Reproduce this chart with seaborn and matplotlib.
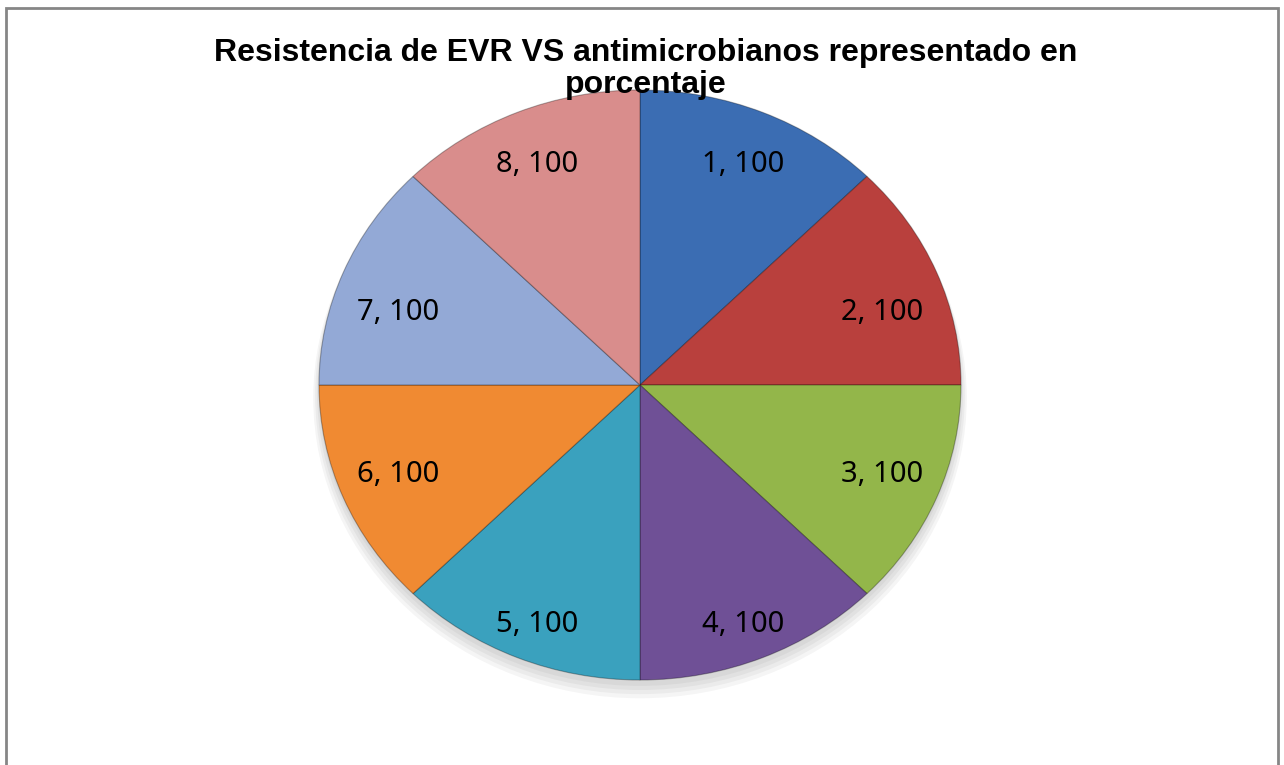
import matplotlib
matplotlib.use("Agg")
import matplotlib.pyplot as plt
import seaborn as sns
import numpy as np
from matplotlib.patches import Rectangle, Ellipse

# Data
categories = ["1", "2", "3", "4", "5", "6", "7", "8"]
values = [100, 100, 100, 100, 100, 100, 100, 100]
colors = ["#3B6DB3", "#B9403D", "#93B64A", "#6F5096", "#3AA1BE",
          "#F08A32", "#93A9D6", "#D98D8C"]
title = "Resistencia de EVR VS antimicrobianos representado en\nporcentaje"

sns.set_theme(style="white")
plt.rcParams['font.family'] = ['Noto Sans', 'DejaVu Sans']

fig = plt.figure(figsize=(12.84, 7.65), dpi=100)
fig.patch.set_facecolor("white")
ax = fig.add_axes([319 / 1284, (765 - 680) / 765, 642 / 1284, 590 / 765])

# soft shadow under the pie
for i in range(4):
    ax.add_patch(Ellipse((0, -0.02 - 0.008 * i), 2.0 + 0.012 * i, 2.0 + 0.012 * i,
                         facecolor="black", alpha=0.04, edgecolor="none",
                         zorder=0, clip_on=False))

labels = [f"{c}, {v}" for c, v in zip(categories, values)]
wedges, texts = ax.pie(
    values, colors=sns.color_palette(colors), startangle=90, counterclock=False,
    labels=labels, labeldistance=0.80,
    textprops=dict(fontsize=21, color="black", ha="center", va="center"),
    wedgeprops=dict(linewidth=0.8, edgecolor=(0, 0, 0, 0.3)),
)
# place labels in Excel-like best-fit spots, derived from each wedge's angle
for w, t in zip(wedges, texts):
    mid = np.deg2rad((w.theta1 + w.theta2) / 2)
    x, y = np.cos(mid), np.sin(mid)
    if abs(x) > 0.5:
        px, py = 0.755 * np.sign(x), 0.717 * y - 0.03
    else:
        px, py = 0.84 * x, (0.81 if y > 0 else 0.88) * y
    t.set_position((px, py))
    t.set_ha("center")
    t.set_va("center")
ax.set_aspect("auto")
ax.set_xlim(-1, 1)
ax.set_ylim(-1, 1)
ax.axis("off")

fig.text(0.503, 1 - 69 / 765, title, ha="center", va="center", fontsize=23,
         fontweight="bold", family=["Liberation Sans", "DejaVu Sans"],
         color="black", linespacing=1.12, zorder=5)

fig.patches.append(Rectangle((6 / 1284, -0.05), 1272 / 1284, 1.05 - 8 / 765,
                             transform=fig.transFigure, fill=False,
                             edgecolor="#868686", linewidth=2))

fig.savefig("out.png", dpi=100, facecolor="white")
